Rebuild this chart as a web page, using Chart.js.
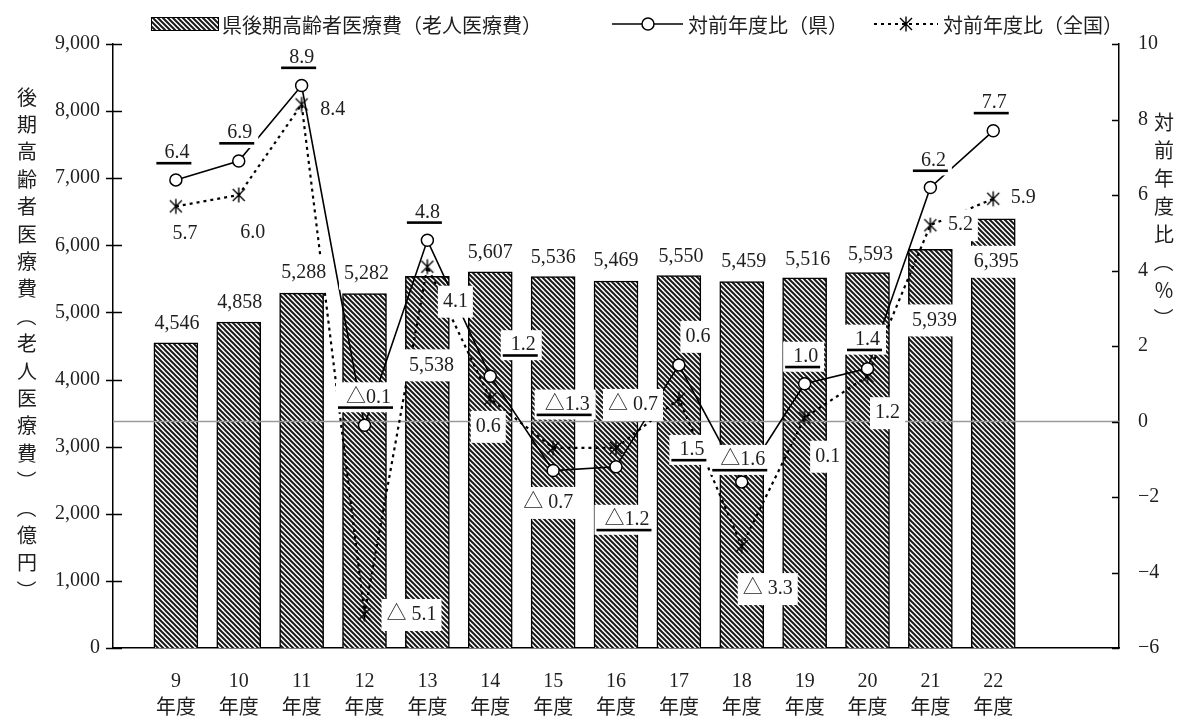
<!DOCTYPE html>
<html lang="ja">
<head>
<meta charset="utf-8">
<title>県後期高齢者医療費と対前年度比</title>
<script src="https://cdn.jsdelivr.net/npm/chart.js@4.4.1/dist/chart.umd.min.js"></script>
<style>
  html, body { margin: 0; padding: 0; background: #fff; }
  #wrap { width: 1187px; height: 717px; position: relative; }
</style>
</head>
<body>
<div id="wrap"><canvas id="chart"></canvas></div>
<script>
// 年度
const years = ['9', '10', '11', '12', '13', '14', '15', '16', '17', '18', '19', '20', '21', '22'];
// 県後期高齢者医療費（老人医療費） 億円
const medicalCost = [4546, 4858, 5288, 5282, 5538, 5607, 5536, 5469, 5550, 5459, 5516, 5593, 5939, 6395];
// 対前年度比（県） %
const rateKen = [6.4, 6.9, 8.9, -0.1, 4.8, 1.2, -1.3, -1.2, 1.5, -1.6, 1.0, 1.4, 6.2, 7.7];
// 対前年度比（全国） %
const rateZenkoku = [5.7, 6.0, 8.4, -5.1, 4.1, 0.6, -0.7, -0.7, 0.6, -3.3, 0.1, 1.2, 5.2, 5.9];
// axis ticks
const costTicks = [0, 1000, 2000, 3000, 4000, 5000, 6000, 7000, 8000, 9000];
const rateTicks = [-6, -4, -2, 0, 2, 4, 6, 8, 10];

// label placement, px offset [dx, dy] from the mark
const costLabelPos = [[1,-19],[1,-19],[2,-20],[2,-20],[4,89],[0,-19],[0,-19],[0,-20],[2,-19],[2,-20],[3,-18],[3,-18],[4,71],[3,43]];
const kenLabelPos  = [[1,-27],[1,-28],[0,-28],[4,-28],[0,-28],[33,-31],[14,-66],[11,53],[13,85],[1,-22],[1,-27],[0,-29],[3,-27],[1,-28]];
const zenLabelPos  = [[9,27],[14,38],[31,5],[47,1],[28,35],[-2,28],[-5,55],[17,-43],[19,-62],[26,43],[23,39],[20,37],[30,0],[30,-1]];

const NUM_FONT = '"Liberation Serif", "Noto Sans CJK JP", serif';
const JP_FONT = '"Noto Sans CJK JP", sans-serif';
const INK = '#1e1e1e';

Chart.defaults.font.family = NUM_FONT;
Chart.defaults.font.size = 20;
Chart.defaults.color = INK;

const canvas = document.getElementById('chart');
const ctx = canvas.getContext('2d');

// diagonal hatch for the bars
function makeHatch() {
  const T = 5;
  const tile = document.createElement('canvas');
  tile.width = T; tile.height = T;
  const g = tile.getContext('2d');
  g.fillStyle = '#fff';
  g.fillRect(0, 0, T, T);
  g.strokeStyle = '#1a1a1a';
  g.lineWidth = 2;
  g.beginPath();
  g.moveTo(-1, -1); g.lineTo(T + 1, T + 1);
  g.moveTo(T - 1, -1); g.lineTo(T + 1, 1);
  g.moveTo(-1, T - 1); g.lineTo(1, T + 1);
  g.stroke();
  return ctx.createPattern(tile, 'repeat');
}

// asterisk marker (X with a vertical stroke)
function makeStar() {
  const c = document.createElement('canvas');
  c.width = 18; c.height = 18;
  const g = c.getContext('2d');
  g.strokeStyle = '#000';
  g.lineWidth = 1.4;
  g.beginPath();
  g.moveTo(9, 1.5); g.lineTo(9, 16.5);
  g.moveTo(3, 3); g.lineTo(15, 15);
  g.moveTo(15, 3); g.lineTo(3, 15);
  g.stroke();
  return c;
}

const hatch = makeHatch();
const star = makeStar();

const fmtCost = v => v.toLocaleString('en-US');
const fmtKen = v => (v < 0 ? '△' + Math.abs(v).toFixed(1) : v.toFixed(1));
const fmtZen = v => (v < 0 ? '△ ' + Math.abs(v).toFixed(1) : v.toFixed(1));

// empty slot left of 9年度 and two right of 22年度
const labels = ['', ...years.map(y => [y, '年度']), '', ''];
const pad = arr => [null, ...arr, null, null];

function drawLabel(c, text, x, y, underline) {
  c.font = '20px ' + NUM_FONT;
  const w = c.measureText(text).width;
  c.fillStyle = '#fff';
  if (underline) {
    c.fillRect(x - w / 2 - 10, y - 15, w + 16, 30);
  } else {
    c.fillRect(x - w / 2 - 5, y - 16, w + 10, 32);
  }
  c.fillStyle = INK;
  c.textAlign = 'center';
  c.textBaseline = 'middle';
  c.fillText(text, x, y);
  if (underline) {
    c.fillStyle = '#000';
    c.fillRect(x - w / 2 - 8, y + 9, w + 10, 2.6);
  }
}

function drawVertical(c, text, x, y, step) {
  c.save();
  c.font = '20px ' + JP_FONT;
  c.fillStyle = INK;
  c.textAlign = 'center';
  c.textBaseline = 'middle';
  for (const ch of text) {
    if (ch === '（' || ch === '）') {
      c.save();
      c.translate(x, y);
      c.rotate(Math.PI / 2);
      c.fillText(ch, 0, 0);
      c.restore();
    } else {
      c.fillText(ch, x, y);
    }
    y += step;
  }
  c.restore();
}

const decor = {
  id: 'decor',
  afterDatasetDraw(chart, args) {
    if (args.meta.type !== 'bar') return;
    const c = chart.ctx, a = chart.chartArea;
    const y0 = chart.scales.y1.getPixelForValue(0);
    c.save();
    c.strokeStyle = '#9a9a9a';
    c.lineWidth = 1.5;
    c.beginPath();
    c.moveTo(a.left, y0);
    c.lineTo(a.right, y0);
    c.stroke();
    c.restore();
  },
  afterDatasetsDraw(chart) {
    const c = chart.ctx;
    const x = chart.scales.x, y = chart.scales.y, y1 = chart.scales.y1;
    c.save();
    medicalCost.forEach((v, i) => {
      const p = costLabelPos[i];
      drawLabel(c, fmtCost(v), x.getPixelForValue(i + 1) + p[0], y.getPixelForValue(v) + p[1], false);
    });
    rateZenkoku.forEach((v, i) => {
      const p = zenLabelPos[i];
      drawLabel(c, fmtZen(v), x.getPixelForValue(i + 1) + p[0], y1.getPixelForValue(v) + p[1], false);
    });
    rateKen.forEach((v, i) => {
      const p = kenLabelPos[i];
      drawLabel(c, fmtKen(v), x.getPixelForValue(i + 1) + p[0], y1.getPixelForValue(v) + p[1], true);
    });
    c.restore();
  },
  afterDraw(chart) {
    const c = chart.ctx, a = chart.chartArea;
    const y = chart.scales.y, y1 = chart.scales.y1;
    c.save();
    // tick marks: crossing on the left, inward on the right
    c.strokeStyle = '#000';
    c.lineWidth = 1.5;
    c.beginPath();
    costTicks.forEach(v => {
      const py = Math.round(y.getPixelForValue(v)) + 0.5;
      c.moveTo(a.left - 7, py); c.lineTo(a.left + 9, py);
    });
    rateTicks.forEach(v => {
      const py = Math.round(y1.getPixelForValue(v)) + 0.5;
      c.moveTo(a.right - 7, py); c.lineTo(a.right, py);
    });
    c.stroke();

    // axis titles
    drawVertical(c, '後期高齢者医療費（老人医療費）（億円）', 27, 97, 27.4);
    drawVertical(c, '対前年度比（％）', 1164, 122, 28);

    // legend
    const ly = 24;
    c.fillStyle = hatch;
    c.fillRect(151, ly - 7, 68, 14);
    c.strokeStyle = '#000';
    c.lineWidth = 1;
    c.strokeRect(151.5, ly - 6.5, 67, 13);

    c.lineWidth = 1.6;
    c.beginPath();
    c.moveTo(612, ly); c.lineTo(683, ly);
    c.stroke();
    c.beginPath();
    c.arc(648, ly, 6, 0, Math.PI * 2);
    c.fillStyle = '#fff';
    c.fill();
    c.lineWidth = 1.5;
    c.stroke();

    c.lineWidth = 2.2;
    c.setLineDash([3, 4]);
    c.beginPath();
    c.moveTo(874, ly); c.lineTo(938, ly);
    c.stroke();
    c.setLineDash([]);
    c.drawImage(star, 906 - 9, ly - 9);

    c.font = '20px ' + JP_FONT;
    c.fillStyle = INK;
    c.textAlign = 'left';
    c.textBaseline = 'middle';
    const ds = chart.data.datasets;
    c.fillText(ds[2].label, 222, ly + 1);
    c.fillText(ds[0].label, 688, ly + 1);
    c.fillText(ds[1].label, 943, ly + 1);
    c.restore();
  }
};

new Chart(ctx, {
  data: {
    labels,
    datasets: [
      {
        type: 'line',
        label: '対前年度比（県）',
        data: pad(rateKen),
        yAxisID: 'y1',
        order: 0,
        borderColor: '#000',
        borderWidth: 1.6,
        pointRadius: 6,
        pointBackgroundColor: '#fff',
        pointBorderColor: '#000',
        pointBorderWidth: 1.5,
        tension: 0
      },
      {
        type: 'line',
        label: '対前年度比（全国）',
        data: pad(rateZenkoku),
        yAxisID: 'y1',
        order: 1,
        borderColor: '#000',
        borderWidth: 2.2,
        borderDash: [3, 4],
        pointStyle: star,
        pointRadius: 9,
        tension: 0
      },
      {
        type: 'bar',
        label: '県後期高齢者医療費（老人医療費）',
        data: pad(medicalCost),
        yAxisID: 'y',
        order: 2,
        backgroundColor: hatch,
        borderColor: '#000',
        borderWidth: 1.5,
        barThickness: 44
      }
    ]
  },
  options: {
    responsive: true,
    maintainAspectRatio: false,
    animation: false,
    layout: { padding: { top: 44, left: 0, right: 0, bottom: 0 } },
    plugins: {
      legend: { display: false },
      tooltip: { enabled: false }
    },
    scales: {
      x: {
        offset: false,
        grid: { display: false },
        border: { color: '#000', width: 1.5 },
        ticks: {
          padding: 12,
          autoSkip: false,
          maxRotation: 0,
          font: { size: 20, lineHeight: 1.35 }
        },
        afterFit: s => { s.height = 69; }
      },
      y: {
        position: 'left',
        min: costTicks[0],
        max: costTicks[costTicks.length - 1],
        grid: { display: false },
        border: { color: '#000', width: 1.5 },
        ticks: { padding: 5, callback: v => fmtCost(v) },
        afterBuildTicks: s => { s.ticks = costTicks.map(v => ({ value: v })); },
        afterFit: s => { s.width = 113; }
      },
      y1: {
        position: 'right',
        min: rateTicks[0],
        max: rateTicks[rateTicks.length - 1],
        grid: { display: false },
        border: { color: '#000', width: 1.5 },
        ticks: { padding: 11, callback: v => (v < 0 ? '−' + Math.abs(v) : String(v)) },
        afterBuildTicks: s => { s.ticks = rateTicks.map(v => ({ value: v })); },
        afterFit: s => { s.width = 68; }
      }
    }
  },
  plugins: [decor]
});
</script>
</body>
</html>
